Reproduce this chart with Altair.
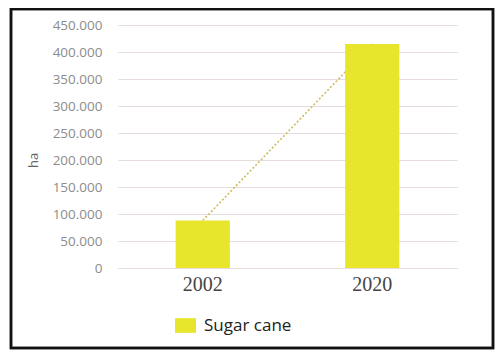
import altair as alt
import pandas as pd

years = ["2002", "2020"]
areas = [88000, 415000]
series = ["Sugar cane", "Sugar cane"]

df = pd.DataFrame({"year": years, "ha": areas, "crop": series})

x_enc = alt.X("year:N", sort=years,
              scale=alt.Scale(paddingInner=0.68, paddingOuter=0.34),
              axis=alt.Axis(title=None, labelAngle=0, labelFont="Liberation Serif",
                            labelFontSize=20, labelColor="#444444", labelPadding=6,
                            ticks=False, domain=False, grid=False))
y_enc = alt.Y("ha:Q", scale=alt.Scale(domain=[0, 450000]),
              axis=alt.Axis(title="ha", values=list(range(0, 450001, 50000)),
                            labelExpr="replace(format(datum.value, ','), /,/g, '.')",
                            labelFont="Open Sans", labelFontSize=13.5, labelColor="#8c8c8c",
                            labelPadding=16, ticks=False, domain=False,
                            gridColor="#e6dcdc", gridWidth=1.2,
                            titleFont="Open Sans", titleFontSize=13, titleColor="#666666",
                            titleFontWeight="normal", titleAngle=-90,
                            titleX=-85, titleY=135, titleAlign="center", titleBaseline="middle"))

line = alt.Chart(df).mark_line(color="#cdbb5e", strokeDash=[2, 2], strokeWidth=1.6).encode(
    x=x_enc, y=y_enc)

bars = alt.Chart(df).mark_bar(color="#e8e62c").encode(
    x=x_enc, y=y_enc,
    color=alt.Color("crop:N", scale=alt.Scale(range=["#e8e62c"]),
                    legend=alt.Legend(title=None, orient="none", legendX=57, legendY=290,
                                      symbolType="M-1,-0.7H1V0.7H-1Z", symbolSize=441,
                                      symbolStrokeWidth=0, labelFont="Open Sans",
                                      labelFontSize=17, labelColor="#222222", labelOffset=8)))

frame = alt.Chart(df).mark_rect(fill=None, stroke="#111111", strokeWidth=2.5, clip=False).encode(
    x=alt.value(-107), x2=alt.value(375), y=alt.value(-16), y2=alt.value(323))

chart = alt.layer(frame, line, bars).properties(
    width=339, height=243,
    autosize=alt.AutoSizeParams(type="none"),
    padding={"left": 110, "top": 17, "right": 38, "bottom": 82},
    background="white",
).configure_view(stroke=None)

chart.save("out.html", embed_options={"renderer": "svg", "actions": False})
